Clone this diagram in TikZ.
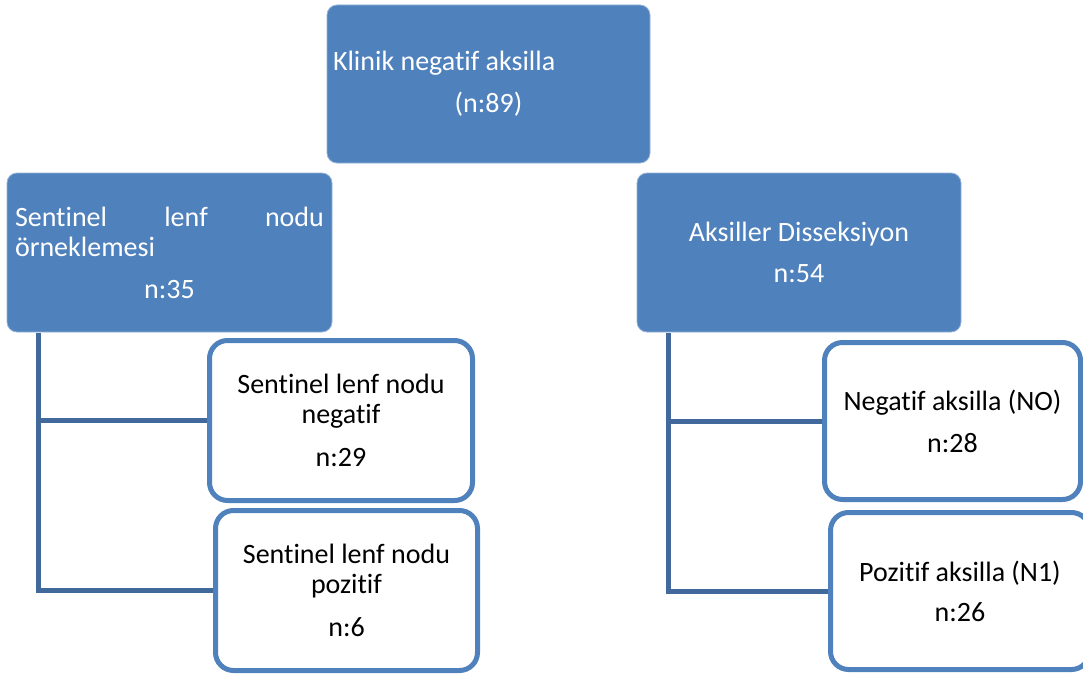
\documentclass[tikz,border=0pt]{standalone}
\usepackage{fontspec}
\setmainfont{Carlito}[Ligatures={NoCommon,NoRare},RawFeature={-liga;-clig;-dlig}]
\definecolor{accent}{HTML}{4F81BD}
\definecolor{connblue}{HTML}{41699B}
\newcommand{\tline}[1]{\mbox{\spaceskip=0pt\xspaceskip=0pt #1}}
\begin{document}
\begin{tikzpicture}[x=1pt,y=-1pt,
  bluebox/.style={fill=accent,draw=accent!60!white,line width=0.8pt,rounded corners=10pt,text=white,inner sep=0pt,
    font=\fontsize{28}{30}\selectfont},
  childbox/.style={fill=white,draw=accent,line width=5pt,rounded corners=18pt,text=black,inner sep=0pt,align=center,
    font=\fontsize{28}{30}\selectfont},
  conn/.style={draw=connblue,line width=5pt,line join=miter}]
\useasboundingbox (0,0) rectangle (1083,677);
\clip (0,0) rectangle (1083,677);

% coordinates for connector trunks
\coordinate (lv) at (38,333);
\coordinate (rv) at (668,333);

% child box anchors (drawn on top later)
\path (341,420.5) node[childbox,minimum width=263pt,minimum height=160pt,draw=none,fill=none] (c1) {};
\path (346.5,590.5) node[childbox,minimum width=262pt,minimum height=160pt,draw=none,fill=none] (c2) {};
\path (952.5,421) node[childbox,minimum width=256pt,minimum height=157pt,draw=none,fill=none] (d1) {};
\path (960,591) node[childbox,minimum width=259pt,minimum height=157pt,draw=none,fill=none] (d2) {};

% connectors
\draw[conn] (lv) |- (c2.west);
\draw[conn] (lv |- c1.west) -- (c1.west);
\draw[conn] (rv) |- (d2.west);
\draw[conn] (rv |- d1.west) -- (d1.west);

% top box
\node[bluebox,minimum width=323pt,minimum height=158pt,text width=311pt,align=left] (top) at (488.5,84)
  {\tline{Klinik negatif aksilla}\\[12pt]\makebox[311pt]{(n:89)}};

% level-2 boxes
\node[bluebox,minimum width=325pt,minimum height=159pt,text width=309pt,align=left] (sln) at (169.5,252.5)
  {\makebox[309pt][s]{Sentinel\hfill lenf\hfill nodu}\\örneklemesi\\[12pt]\makebox[309pt]{n:35}};
\node[bluebox,minimum width=324pt,minimum height=159pt,align=center] (ad) at (799,252.5)
  {\tline{Aksiller Disseksiyon}\\[11pt]n:54};

% child boxes drawn
\node[childbox,minimum width=263pt,minimum height=160pt] at (c1) {\tline{Sentinel lenf nodu}\\negatif\\[13pt]n:29};
\node[childbox,minimum width=262pt,minimum height=160pt] at (c2) {\tline{Sentinel lenf nodu}\\pozitif\\[13pt]n:6};
\node[childbox,minimum width=256pt,minimum height=157pt] at (d1) {\tline{Negatif aksilla (NO)}\\[12pt]n:28};
\node[childbox,minimum width=259pt,minimum height=157pt] at (d2) {\tline{Pozitif aksilla (N1)}\\[10pt]n:26};
\end{tikzpicture}
\end{document}
